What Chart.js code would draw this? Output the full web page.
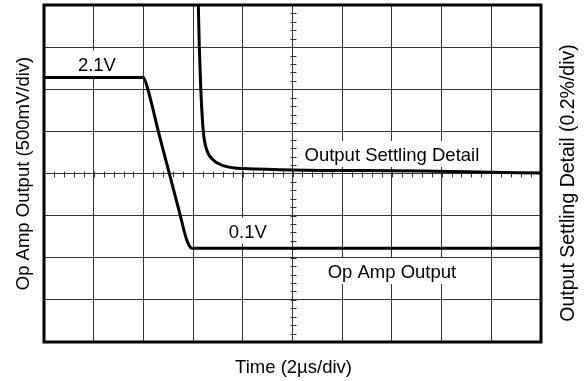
<!DOCTYPE html>
<html>
<head>
<meta charset="utf-8">
<script src="https://cdn.jsdelivr.net/npm/chart.js@4"></script>
<style>
  body { margin: 0; background: #fff; }
  canvas { display: block; }
</style>
</head>
<body>
<canvas id="scope" width="585" height="381"></canvas>
<script>
// time base in µs, 2 µs per division
const ampTime = [0, 4.0, 4.18, 4.6, 5.04, 5.47, 5.74, 5.94, 20];
const ampVolts = [2.1, 2.1, 1.96, 1.47, 0.98, 0.5, 0.2, 0.1, 0.1];

// settling error in %, 0.2 % per division
const settleTime = [6.21, 6.25, 6.31, 6.41, 6.55, 6.81, 7.15, 7.69, 8.0, 10.0, 15.3, 17.0, 20];
const settlePct = [0.8, 0.6, 0.4, 0.2, 0.112, 0.064, 0.04, 0.026, 0.024, 0.017, 0.012, 0.008, 0.002];

const levelLabels = ['2.1V', '0.1V'];
const traceLabels = ['Output Settling Detail', 'Op Amp Output'];
const axisTitles = ['Time (2µs/div)', 'Op Amp Output (500mV/div)', 'Output Settling Detail (0.2%/div)'];

const FONT = '"Liberation Sans", Arial, sans-serif';
const GRID = '#333';

function toPoints(xs, ys) {
  return xs.map((x, i) => ({ x, y: ys[i] }));
}

function boxedText(ctx, text, cx, baseline) {
  const w = ctx.measureText(text).width;
  ctx.fillStyle = '#fff';
  ctx.fillRect(cx - w / 2 - 7, baseline - 20, w + 14, 26);
  ctx.fillStyle = '#000';
  ctx.fillText(text, cx, baseline);
}

// graticule extras: label boxes, minor ticks on the centre lines, frame, titles
const scopeDecor = {
  id: 'scopeDecor',
  beforeDatasetsDraw(chart) {
    const { ctx, chartArea: a, scales } = chart;
    const x = scales.x, y = scales.y, y1 = scales.y1;

    ctx.save();
    ctx.font = '18.5px ' + FONT;
    ctx.textAlign = 'center';
    ctx.textBaseline = 'alphabetic';
    boxedText(ctx, levelLabels[0], x.getPixelForValue(2.13), y.getPixelForValue(ampVolts[0]) - 7);
    boxedText(ctx, levelLabels[1], x.getPixelForValue(8.2), y.getPixelForValue(ampVolts[ampVolts.length - 1]) - 10.5);
    boxedText(ctx, traceLabels[0], x.getPixelForValue(14), y1.getPixelForValue(0) - 12.5);
    boxedText(ctx, traceLabels[1], x.getPixelForValue(14), y.getPixelForValue(ampVolts[ampVolts.length - 1]) + 30);

    // minor ticks, 5 per division, on the centre cross
    const cy = Math.round(y1.getPixelForValue(0)) + 0.5;
    const cx = Math.round(x.getPixelForValue(10)) + 0.5;
    ctx.strokeStyle = GRID;
    ctx.lineWidth = 1;
    ctx.beginPath();
    for (let t = 0.4; t < 20; t += 0.4) {
      const px = Math.round(x.getPixelForValue(t)) + 0.5;
      ctx.moveTo(px, cy - 3);
      ctx.lineTo(px, cy + 3);
    }
    for (let v = -0.76; v < 0.8; v += 0.04) {
      const py = Math.round(y1.getPixelForValue(v)) + 0.5;
      ctx.moveTo(cx - 3, py);
      ctx.lineTo(cx + 3, py);
    }
    ctx.stroke();
    ctx.restore();
  },
  afterDraw(chart) {
    const { ctx, chartArea: a } = chart;
    ctx.save();
    ctx.strokeStyle = '#000';
    ctx.lineWidth = 3;
    ctx.strokeRect(a.left, a.top, a.right - a.left, a.bottom - a.top);

    ctx.fillStyle = '#000';
    ctx.textAlign = 'center';
    ctx.textBaseline = 'alphabetic';
    ctx.font = '18.5px ' + FONT;
    ctx.fillText(axisTitles[0], (a.left + a.right) / 2 + 1, 373);

    ctx.save();
    ctx.translate(29, (a.top + a.bottom) / 2);
    ctx.rotate(-Math.PI / 2);
    ctx.fillText(axisTitles[1], 0, 0);
    ctx.restore();

    ctx.save();
    ctx.font = '19.5px ' + FONT;
    ctx.translate(574, 183);
    ctx.rotate(-Math.PI / 2);
    ctx.fillText(axisTitles[2], 0, 0);
    ctx.restore();
    ctx.restore();
  }
};

new Chart(document.getElementById('scope'), {
  type: 'line',
  data: {
    datasets: [
      {
        label: traceLabels[1],
        data: toPoints(ampTime, ampVolts),
        yAxisID: 'y',
        borderColor: '#000',
        borderWidth: 3,
        pointRadius: 0,
        cubicInterpolationMode: 'monotone'
      },
      {
        label: traceLabels[0],
        data: toPoints(settleTime, settlePct),
        yAxisID: 'y1',
        borderColor: '#000',
        borderWidth: 3,
        pointRadius: 0,
        cubicInterpolationMode: 'monotone'
      }
    ]
  },
  options: {
    responsive: false,
    animation: false,
    layout: { padding: { left: 44, right: 44, top: 5, bottom: 39 } },
    plugins: { legend: { display: false }, tooltip: { enabled: false } },
    scales: {
      x: {
        type: 'linear',
        min: 0,
        max: 20,
        ticks: { display: false, stepSize: 2 },
        grid: { color: GRID, lineWidth: 1, drawTicks: false },
        border: { display: false }
      },
      y: {
        display: false,
        min: -1,
        max: 2.95
      },
      y1: {
        position: 'right',
        min: -0.8,
        max: 0.8,
        ticks: { display: false, stepSize: 0.2 },
        grid: { color: GRID, lineWidth: 1, drawTicks: false },
        border: { display: false }
      }
    }
  },
  plugins: [scopeDecor]
});
</script>
</body>
</html>
